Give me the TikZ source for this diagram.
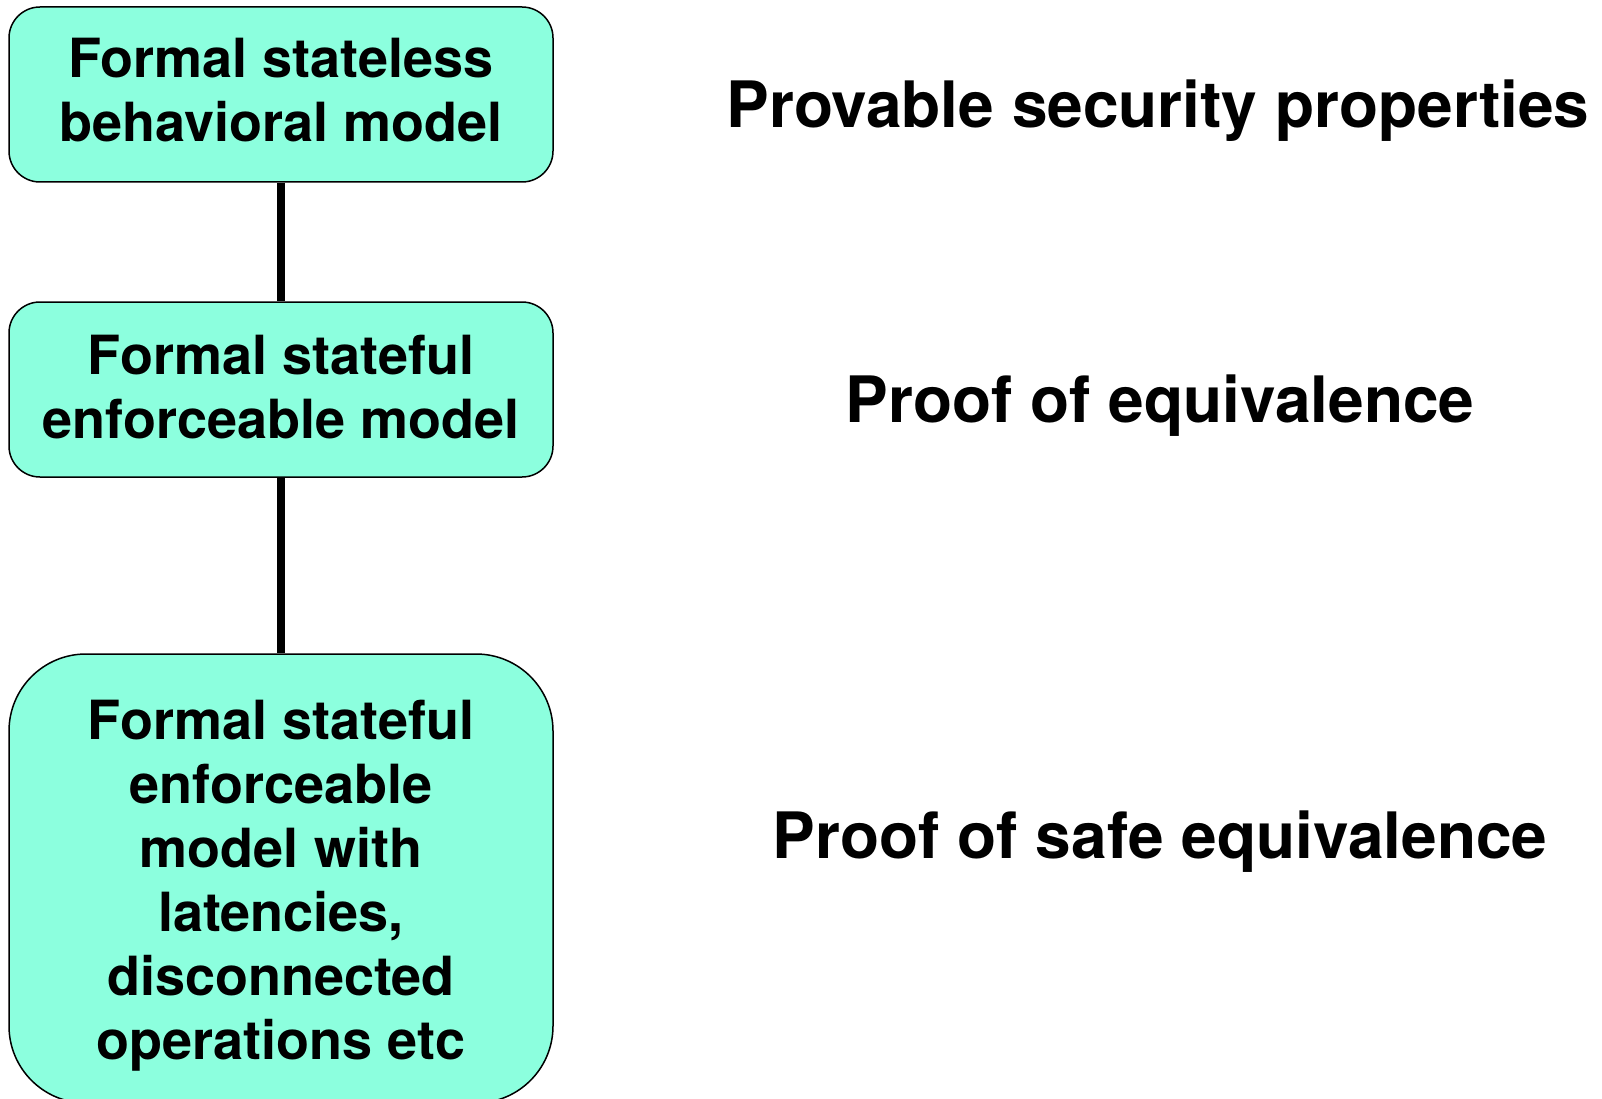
\documentclass[tikz,border=0pt]{standalone}
\usepackage{fontspec}
\setmainfont{TeX Gyre Heros}
\definecolor{boxfill}{RGB}{140,255,222}
\begin{document}
\begin{tikzpicture}[x=1pt,y=-1pt,
  modelbox/.style={draw=black, line width=1.5pt, fill=boxfill, rounded corners=#1,
    inner sep=0pt, minimum width=544pt},
  boxtext/.style={align=center, inner sep=0pt,
    font=\fontsize{54pt}{64pt}\bfseries\selectfont},
  proofnote/.style={font=\fontsize{64pt}{76pt}\bfseries\selectfont, inner sep=0pt},
  link/.style={line width=8pt}]
\useasboundingbox (0,0) rectangle (1602,1099);
\clip (0,0) rectangle (1602,1099);
\node[modelbox=31pt, minimum height=175pt] (b1) at (281,94.5) {};
\node[modelbox=31pt, minimum height=175pt] (b2) at (281,389.5) {};
\node[modelbox=77pt, minimum height=449pt] (b3) at (281,878.5) {};
\node[boxtext] (t1) at (281,90.5) {Formal stateless\\behavioral model};
\node[boxtext] (t2) at (281,387) {Formal stateful\\enforceable model};
\node[boxtext] (t3) at (281,886) {Formal stateful\\enforceable\\model with\\latencies,\\disconnected\\operations etc};
\draw[link] (b1.south) -- (b2.north);
\draw[link] (b2.south) -- (b3.north);
\node[proofnote] (p1) at (1158,111) {Provable security properties};
\node[proofnote] (p2) at (1160,406) {Proof of equivalence};
\node[proofnote] (p3) at (1160,842) {Proof of safe equivalence};
\end{tikzpicture}
\end{document}
